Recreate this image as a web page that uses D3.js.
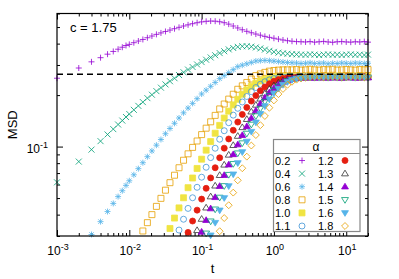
<!DOCTYPE html>
<html>
<head>
<meta charset="utf-8">
<script src="https://cdn.jsdelivr.net/npm/d3@7"></script>
<style>
body{margin:0;background:#fff;}
svg text{font-family:"Liberation Sans",Arial,sans-serif;fill:#000;}
</style>
</head>
<body>
<div id="plot"></div>
<script>
var N = null;

// sampling times (shared by all curves)
var times = [0.001,0.002,0.003,0.004,0.005,0.006,0.007,0.008,0.009,
  0.01,0.01155,0.01334,0.0154,0.01778,0.02054,0.02371,0.02738,0.03162,0.03652,0.04217,0.0487,0.05623,0.06494,0.07499,0.0866,
  0.1,0.1155,0.1334,0.154,0.1778,0.2054,0.2371,0.2738,0.3162,0.3652,0.4217,0.487,0.5623,0.6494,0.7499,0.866,
  1,1.155,1.334,1.54,1.778,2.054,2.371,2.738,3.162,3.652,4.217,4.87,5.623,6.494,7.499,8.66,
  10,11.55,13.34,15.4,17.78,20];

var alphas = ['0.2','0.4','0.6','0.8','1.0','1.1','1.2','1.3','1.4','1.5','1.6','1.8'];
var pointTypes = [1,2,3,4,5,6,7,8,9,10,11,12];
var colors = ['#9400d3','#009e73','#56b4e9','#e69f00','#f0e442','#3f94d6','#e51e10','#333333','#9400d3','#009e73','#56b4e9','#e69f00'];

var msd02 = [0.251,0.288,0.313,0.331,0.347,0.360,0.371,0.381,0.390,
  0.396,0.405,0.414,0.423,0.433,0.443,0.453,0.462,0.471,0.480,0.489,0.498,0.507,0.515,0.523,0.530,
  0.536,0.540,0.542,0.541,0.537,0.530,0.520,0.507,0.494,0.482,0.472,0.463,0.455,0.448,0.441,0.435,
  0.430,0.425,0.420,0.416,0.413,0.411,0.410,0.409,0.411,0.408,0.410,0.412,0.409,0.407,0.410,0.411,
  0.409,0.408,0.410,0.409,0.411,0.408];
var msd04 = [0.0618,0.0817,0.0960,0.1076,0.1177,0.1265,0.1346,0.1419,0.1489,
  0.155,0.164,0.173,0.182,0.192,0.201,0.211,0.221,0.231,0.241,0.251,0.262,0.272,0.282,0.292,0.302,
  0.312,0.322,0.332,0.342,0.352,0.361,0.370,0.377,0.383,0.386,0.386,0.384,0.380,0.375,0.369,0.363,
  0.358,0.354,0.351,0.349,0.347,0.346,0.345,0.344,0.346,0.345,0.343,0.345,0.346,0.344,0.345,0.343,
  0.345,0.346,0.344,0.345,0.343,0.345];
var msd06 = [N,N,0.0306,0.0364,0.0417,0.0465,0.0510,0.0552,0.0593,
  0.0631,0.0684,0.0743,0.0805,0.0873,0.0943,0.1019,0.1100,0.1189,0.1276,0.1368,0.1469,0.1575,0.1679,0.1789,0.1905,
  0.2030,0.2138,0.2252,0.2371,0.2497,0.260,0.2707,0.2818,0.2935,0.2992,0.3048,0.3105,0.3162,0.318,0.319,0.318,
  0.316,0.314,0.312,0.310,0.309,0.308,0.306,0.307,0.309,0.306,0.307,0.308,0.305,0.307,0.306,0.308,
  0.307,0.306,0.308,0.307,0.306,0.307];
var msd08 = [N,N,N,N,N,N,N,N,N,
  N,N,N,0.0321,0.0359,0.0400,0.0447,0.0498,0.0556,0.0615,0.0680,0.0752,0.0832,0.0907,0.0989,0.1078,
  0.1175,0.1281,0.1396,0.1522,0.1660,0.1774,0.1895,0.2023,0.2163,0.2265,0.2371,0.2483,0.2600,0.266,0.2716,0.2761,
  0.2786,0.280,0.281,0.281,0.281,0.282,0.280,0.281,0.283,0.281,0.280,0.282,0.281,0.283,0.280,0.281,
  0.282,0.281,0.280,0.282,0.281,0.282];
var msd10 = [N,N,N,N,N,N,N,N,N,
  N,N,N,N,N,N,N,N,N,0.0332,0.0382,0.0438,0.0502,0.0575,0.0655,0.0745,
  0.0844,0.0953,0.1070,0.1197,0.1330,0.1468,0.1611,0.1753,0.1891,0.2024,0.2146,0.2253,0.2345,0.2419,0.2474,0.2514,
  0.2537,0.2555,0.2564,0.257,0.256,0.258,0.257,0.256,0.257,0.258,0.256,0.257,0.257,0.256,0.258,0.257,
  0.256,0.257,0.258,0.257,0.256,0.257];
var msd11 = [N,N,N,N,N,N,N,N,N,
  N,N,N,N,N,N,N,N,N,N,N,0.0325,0.0376,0.0435,0.0502,0.0578,
  0.0662,0.0757,0.0862,0.0978,0.1104,0.1238,0.1379,0.1527,0.1674,0.1823,0.1963,0.2095,0.2214,0.2313,0.2395,0.2456,
  0.2499,0.2525,0.2544,0.2553,0.256,0.255,0.257,0.256,0.255,0.256,0.257,0.256,0.255,0.256,0.256,0.257,
  0.255,0.256,0.256,0.257,0.256,0.255];
var msd12 = [N,N,N,N,N,N,N,N,N,
  N,N,N,N,N,N,N,N,N,N,N,N,N,0.0315,0.0367,0.0425,
  0.0493,0.0570,0.0656,0.0752,0.0860,0.0979,0.1108,0.1246,0.1391,0.1542,0.1694,0.1845,0.1986,0.2120,0.2234,0.2332,
  0.2407,0.2464,0.2502,0.2525,0.2539,0.2545,0.255,0.254,0.256,0.255,0.254,0.255,0.256,0.255,0.254,0.255,
  0.256,0.255,0.255,0.254,0.256,0.255];
var msd13 = [N,N,N,N,N,N,N,N,N,
  N,N,N,N,N,N,N,N,N,N,N,N,N,N,N,0.0324,
  0.0377,0.0439,0.0510,0.0590,0.0680,0.0782,0.0894,0.1018,0.1152,0.1295,0.1445,0.1599,0.1752,0.1902,0.2043,0.2168,
  0.2278,0.2365,0.2432,0.2478,0.2505,0.2525,0.2534,0.254,0.253,0.255,0.254,0.253,0.254,0.255,0.254,0.253,
  0.254,0.254,0.255,0.253,0.254,0.254];
var msd14 = [N,N,N,N,N,N,N,N,N,
  N,N,N,N,N,N,N,N,N,N,N,N,N,N,N,N,
  0.0317,0.0371,0.0434,0.0505,0.0587,0.0680,0.0784,0.0900,0.1027,0.1165,0.1312,0.1466,0.1623,0.1780,0.1932,0.2072,
  0.2196,0.2299,0.2383,0.2442,0.2484,0.2506,0.2520,0.2527,0.253,0.252,0.253,0.254,0.252,0.253,0.253,0.252,
  0.254,0.253,0.252,0.253,0.254,0.253];
var msd15 = [N,N,N,N,N,N,N,N,N,
  N,N,N,N,N,N,N,N,N,N,N,N,N,N,N,N,
  N,0.0311,0.0366,0.0430,0.0504,0.0589,0.0685,0.0793,0.0915,0.1048,0.1193,0.1347,0.1509,0.1671,0.1834,0.1986,
  0.2128,0.2248,0.2348,0.2421,0.2473,0.2503,0.2525,0.2534,0.254,0.253,0.255,0.254,0.253,0.254,0.255,0.253,
  0.254,0.254,0.253,0.255,0.254,0.253];
var msd16 = [N,N,N,N,N,N,N,N,N,
  N,N,N,N,N,N,N,N,N,N,N,N,N,N,N,N,
  N,N,0.0303,0.0359,0.0424,0.0501,0.0588,0.0689,0.0802,0.0930,0.1071,0.1223,0.1386,0.1554,0.1725,0.1891,
  0.2046,0.2184,0.2299,0.2390,0.2454,0.2495,0.2521,0.2533,0.254,0.255,0.253,0.254,0.255,0.254,0.253,0.254,
  0.255,0.254,0.253,0.254,0.255,0.254];
var msd18 = [N,N,N,N,N,N,N,N,N,
  N,N,N,N,N,N,N,N,N,N,N,N,N,N,N,N,
  N,N,N,N,0.0320,0.0382,0.0454,0.0538,0.0635,0.0747,0.0873,0.1014,0.1168,0.1334,0.1510,0.1687,
  0.1862,0.2027,0.2173,0.2298,0.2394,0.2462,0.2506,0.2532,0.2544,0.255,0.256,0.254,0.255,0.256,0.255,0.254,
  0.255,0.256,0.255,0.255,0.254,0.256];

var allSeries = [msd02,msd04,msd06,msd08,msd10,msd11,msd12,msd13,msd14,msd15,msd16,msd18];

var plateau = 0.265;
var xMajor = [1e-3,1e-2,1e-1,1,10];
var xMajorExp = ['-3','-2','-1','0','1'];
var yMajor = [0.1];
var yMajorExp = ['-1'];

//Set up the drawing environment here
var margin = {t:13.5,r:31,b:43,l:57};
var W = 399, H = 279;
var width = W-margin.l-margin.r,
    height = H-margin.t-margin.b;

var svg = d3.select('#plot')
    .append('svg')
    .attr('width', W)
    .attr('height', H);

var plot = svg.append('g')
    .attr('transform','translate('+margin.l+','+margin.t+')');

var x = d3.scaleLog().domain([1e-3,20]).range([0,width]);
var y = d3.scaleLog().domain([0.03,0.6]).range([height,0]);

var xMinor = x.ticks().filter(function(v){ return xMajor.indexOf(v) < 0; });
var yMinor = y.ticks().filter(function(v){ return Math.abs(v-0.1) > 1e-9; });

function tickAxis(axis, tr){
    var g = plot.append('g').attr('transform', tr).call(axis);
    g.select('.domain').remove();
    g.selectAll('line').attr('stroke','#000').attr('stroke-width',1);
    return g;
}
// ticks inward, mirrored on all sides
tickAxis(d3.axisBottom(x).tickValues(xMinor).tickSize(-3).tickFormat(''), 'translate(0,'+height+')');
tickAxis(d3.axisBottom(x).tickValues(xMajor).tickSize(-6).tickFormat(''), 'translate(0,'+height+')');
tickAxis(d3.axisTop(x).tickValues(xMinor).tickSize(-3).tickFormat(''), 'translate(0,0)');
tickAxis(d3.axisTop(x).tickValues(xMajor).tickSize(-6).tickFormat(''), 'translate(0,0)');
tickAxis(d3.axisLeft(y).tickValues(yMinor).tickSize(-3).tickFormat(''), 'translate(0,0)');
tickAxis(d3.axisLeft(y).tickValues(yMajor).tickSize(-6).tickFormat(''), 'translate(0,0)');
tickAxis(d3.axisRight(y).tickValues(yMinor).tickSize(-3).tickFormat(''), 'translate('+width+',0)');
tickAxis(d3.axisRight(y).tickValues(yMajor).tickSize(-6).tickFormat(''), 'translate('+width+',0)');

// tick labels 10^n
xMajor.forEach(function(v,i){
    var t = plot.append('text')
        .attr('x', x(v)+1)
        .attr('y', height+19)
        .attr('text-anchor','middle')
        .style('font-size','12px');
    t.append('tspan').text('10');
    t.append('tspan').attr('dy',-5).style('font-size','9px').text(xMajorExp[i]);
});
yMajor.forEach(function(v,i){
    var t = plot.append('text')
        .attr('x', -9)
        .attr('y', y(v)+6)
        .attr('text-anchor','end')
        .style('font-size','12px');
    t.append('tspan').text('10');
    t.append('tspan').attr('dy',-5).style('font-size','9px').text(yMajorExp[i]);
});

// point glyphs, gnuplot style point types
function symbolPath(pt, s){
    var a = s*1.15, b = s*0.75;
    if (pt==1) return 'M'+(-s)+',0H'+s+'M0,'+(-s)+'V'+s;
    if (pt==2) return 'M'+(-s)+','+(-s)+'L'+s+','+s+'M'+(-s)+','+s+'L'+s+','+(-s);
    if (pt==3) return symbolPath(1,s)+symbolPath(2,s*0.75);
    if (pt==4 || pt==5) return 'M'+(-s)+','+(-s)+'H'+s+'V'+s+'H'+(-s)+'Z';
    if (pt==6 || pt==7) return 'M'+s+',0A'+s+','+s+' 0 1,1 '+(-s)+',0A'+s+','+s+' 0 1,1 '+s+',0Z';
    if (pt==8 || pt==9) return 'M0,'+(-a)+'L'+a+','+b+'L'+(-a)+','+b+'Z';
    if (pt==10 || pt==11) return 'M0,'+a+'L'+a+','+(-b)+'L'+(-a)+','+(-b)+'Z';
    return 'M0,'+(-a)+'L'+a+',0L0,'+a+'L'+(-a)+',0Z';
}
function isFilled(pt){ return pt==5 || pt==7 || pt==9 || pt==11; }

function drawPoint(g, pt, color, cx, cy){
    g.append('path')
        .attr('transform','translate('+cx+','+cy+')')
        .attr('d', symbolPath(pt, 3))
        .attr('fill', isFilled(pt) ? color : 'none')
        .attr('stroke', color)
        .attr('stroke-width', 0.8);
}

var pts = plot.append('g');
allSeries.forEach(function(vals, si){
    vals.forEach(function(v, k){
        if (v === null || v < 0.03 || v > 0.6) return;
        drawPoint(pts, pointTypes[si], colors[si], x(times[k]), y(v));
    });
});

// reference level
plot.append('line')
    .attr('x1',0).attr('x2',width)
    .attr('y1',y(plateau)).attr('y2',y(plateau))
    .attr('stroke','#000')
    .attr('stroke-width',1.4)
    .attr('stroke-dasharray','6,4');

// frame
plot.append('rect')
    .attr('x',0).attr('y',0)
    .attr('width',width).attr('height',height)
    .attr('fill','none')
    .attr('stroke','#000')
    .attr('stroke-width',1.2);

plot.append('text')
    .attr('x',13).attr('y',18.5)
    .style('font-size','13px')
    .text('c = 1.75');

// axis titles
svg.append('text')
    .attr('x', margin.l+width/2)
    .attr('y', 273)
    .attr('text-anchor','middle')
    .style('font-size','13px')
    .text('t');
svg.append('text')
    .attr('transform','translate(17,'+(margin.t+height/2)+') rotate(-90)')
    .attr('text-anchor','middle')
    .style('font-size','13px')
    .text('MSD');

// legend
var leg = svg.append('g').attr('transform','translate(273.5,139.5)');
leg.append('rect')
    .attr('width',86.5).attr('height',92)
    .attr('fill','#fff')
    .attr('stroke','#888')
    .attr('stroke-width',1.2);
leg.append('line')
    .attr('x1',0).attr('x2',86.5)
    .attr('y1',14).attr('y2',14)
    .attr('stroke','#888')
    .attr('stroke-width',1.2);
leg.append('text')
    .attr('x',42.5).attr('y',11.5)
    .attr('text-anchor','middle')
    .style('font-size','12px')
    .text('\u03b1');
alphas.forEach(function(a, i){
    var col = Math.floor(i/6), row = i%6;
    var cy = 21 + row*13.1;
    leg.append('text')
        .attr('x', col==0 ? 1.5 : 44.5)
        .attr('y', cy+4.2)
        .style('font-size','11px')
        .text(a);
    drawPoint(leg, pointTypes[i], colors[i], col==0 ? 28.5 : 71.5, cy);
});
</script>
</body>
</html>
